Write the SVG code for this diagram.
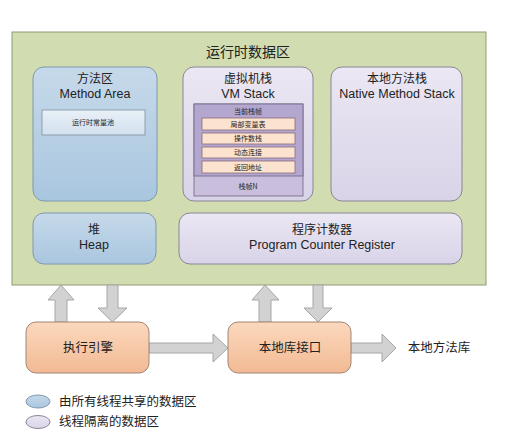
<svg xmlns="http://www.w3.org/2000/svg" width="519" height="441" viewBox="0 0 519 441">
<defs>
<linearGradient id="gBlue" x1="0" y1="0" x2="0" y2="1"><stop offset="0" stop-color="#c6d9ea"/><stop offset="1" stop-color="#a9c6df"/></linearGradient>
<linearGradient id="gPurple" x1="0" y1="0" x2="0" y2="1"><stop offset="0" stop-color="#ebe7f3"/><stop offset="1" stop-color="#d9d3e8"/></linearGradient>
<linearGradient id="gOrange" x1="0" y1="0" x2="0" y2="1"><stop offset="0" stop-color="#fbd8bd"/><stop offset="1" stop-color="#f2ba94"/></linearGradient>
<linearGradient id="gPool" x1="0" y1="0" x2="0" y2="1"><stop offset="0" stop-color="#e9f0f7"/><stop offset="1" stop-color="#d2e0ee"/></linearGradient>
</defs>
<style>
text{font-family:"Noto Sans CJK SC","Liberation Sans",sans-serif;fill:#222;text-anchor:middle}
.t{font-size:12.5px}
.c{font-size:12px}
.e{font-size:12.5px;font-family:"Liberation Sans","Noto Sans CJK SC",sans-serif}
.s{font-size:7px}
.blue{fill:url(#gBlue);stroke:#7f98ad;stroke-width:1}
.purple{fill:url(#gPurple);stroke:#8a8596;stroke-width:1}
.orange{fill:url(#gOrange);stroke:#a08676;stroke-width:1}
.arr{fill:#d2d2d2;stroke:#a6a6a6;stroke-width:1}
.row{fill:#fbe3cf;stroke:#8c6c7a;stroke-width:0.8}
</style>
<rect width="519" height="441" fill="#ffffff"/>
<g id="runtime-area">
<rect x="12" y="32" width="474" height="253" fill="#d1dcb1" stroke="#8e9c72" stroke-width="1"/>
<text x="248" y="57" style="font-size:14px">运行时数据区</text>
</g>
<g id="method-area">
<rect class="blue" x="33" y="67" width="124" height="134" rx="11"/>
<text class="c" x="95" y="83">方法区</text>
<text class="e" x="95" y="98">Method Area</text>
<rect x="42" y="110" width="103" height="25" fill="url(#gPool)" stroke="#7f8f9f" stroke-width="0.8"/>
<text class="s" x="93" y="125">运行时常量池</text>
</g>
<g id="vm-stack">
<rect class="purple" x="183" y="67" width="130" height="134" rx="11"/>
<text class="c" x="248" y="83">虚拟机栈</text>
<text class="e" x="248" y="98">VM Stack</text>
<rect x="194" y="104" width="109" height="92" fill="#c9bfdd" stroke="#6e6580" stroke-width="0.8"/>
<rect x="194" y="104" width="109" height="72" fill="#b3a6cf" stroke="#6e6580" stroke-width="0.8"/>
<text class="s" x="248" y="114">当前栈帧</text>
<rect class="row" x="202" y="118" width="93" height="12"/>
<text class="s" x="248" y="127">局部变量表</text>
<rect class="row" x="202" y="133" width="93" height="11"/>
<text class="s" x="248" y="141">操作数栈</text>
<rect class="row" x="202" y="147" width="93" height="11"/>
<text class="s" x="248" y="155">动态连接</text>
<rect class="row" x="202" y="161" width="93" height="12"/>
<text class="s" x="248" y="170">返回地址</text>
<text class="s" x="248" y="189">栈帧N</text>
</g>
<g id="native-method-stack">
<rect class="purple" x="331" y="67" width="131" height="134" rx="11"/>
<text class="c" x="397" y="83">本地方法栈</text>
<text class="e" x="397" y="98">Native Method Stack</text>
</g>
<g id="heap">
<rect class="blue" x="33" y="213" width="123" height="51" rx="11"/>
<text class="c" x="94" y="234">堆</text>
<text class="e" x="94" y="249">Heap</text>
</g>
<g id="program-counter">
<rect class="purple" x="179" y="213" width="283" height="51" rx="11"/>
<text class="c" x="322" y="234">程序计数器</text>
<text class="e" x="322" y="249">Program Counter Register</text>
</g>
<g id="connectors">
<path class="arr" d="M55,322 V300 H48 L61,285 L74,300 H67 V322 Z"/>
<path class="arr" d="M107,285 V308 H98 L112.5,322 L127,308 H118 V285 Z"/>
<path class="arr" d="M259,322 V300 H252 L265,285 L279,300 H271 V322 Z"/>
<path class="arr" d="M313,285 V308 H304 L318,322 L332,308 H323 V285 Z"/>
<path class="arr" d="M149,343 H213 V334 L228,348 L213,362 V353 H149 Z"/>
<path class="arr" d="M351,343 H382 V334 L396,348 L382,362 V353 H351 Z"/>
</g>
<g id="execution-engine">
<rect class="orange" x="26" y="322" width="123" height="51" rx="10"/>
<text class="t" x="88" y="352">执行引擎</text>
</g>
<g id="native-interface">
<rect class="orange" x="228" y="322" width="123" height="51" rx="10"/>
<text class="t" x="290" y="352">本地库接口</text>
</g>
<g id="native-library">
<text class="t" x="439" y="352">本地方法库</text>
</g>
<g id="legend">
<ellipse cx="38" cy="401.5" rx="12" ry="6.5" fill="url(#gBlue)" stroke="#7f98ad"/>
<text class="t" x="59" y="406" style="text-anchor:start">由所有线程共享的数据区</text>
<ellipse cx="38" cy="422" rx="12" ry="6.5" fill="url(#gPurple)" stroke="#8a8596"/>
<text class="t" x="59" y="426" style="text-anchor:start">线程隔离的数据区</text>
</g>
</svg>
